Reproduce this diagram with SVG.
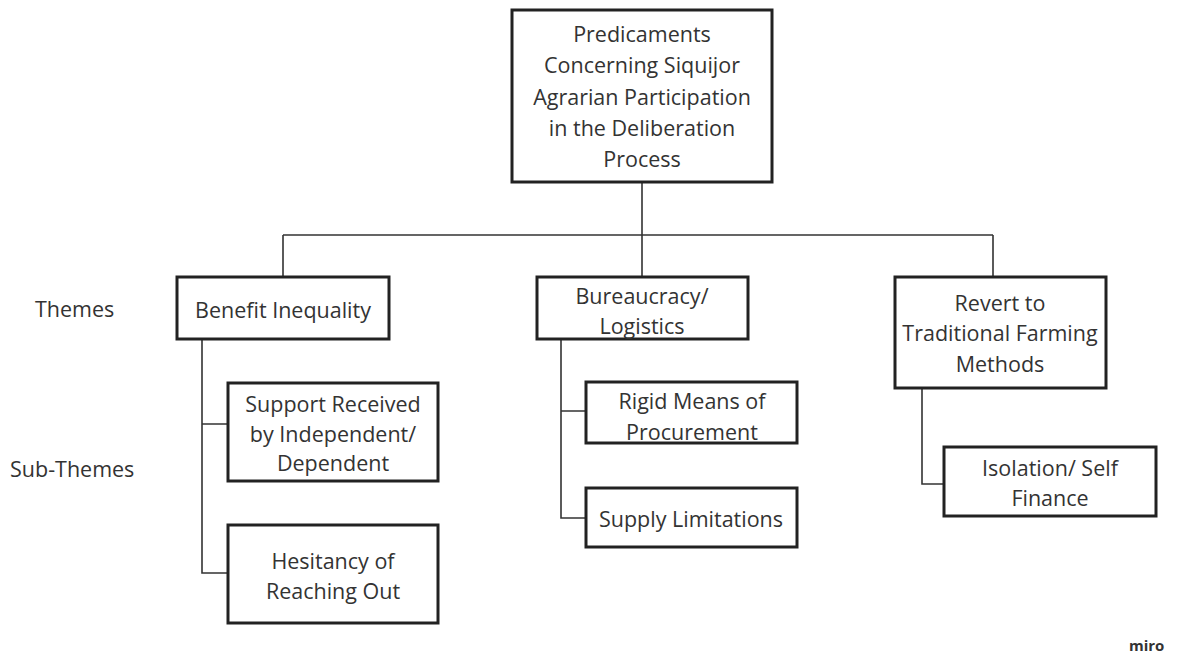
<svg xmlns="http://www.w3.org/2000/svg" width="1182" height="656" viewBox="0 0 1182 656">
<style>
.box{fill:#fff;stroke:#222;stroke-width:3}
.t{font-family:"Open Sans","Liberation Sans",sans-serif;font-size:21.5px;fill:#333;text-anchor:middle;dominant-baseline:central}
.lbl{font-family:"Open Sans","Liberation Sans",sans-serif;font-size:21.5px;fill:#333;dominant-baseline:central}
.c{fill:none;stroke:#333;stroke-width:1.6}
</style>
<rect width="1182" height="656" fill="#fff"/>
<g id="connectors">
<path class="c" d="M642 182V235M283 235H993M283 235V277M642 235V277M993 235V277"/>
<path class="c" d="M202 339V573H228M202 424H228"/>
<path class="c" d="M561 339V518H586M561 411H586"/>
<path class="c" d="M922 388V484H944"/>
</g>
<g id="root">
<rect class="box" x="512" y="10" width="260" height="172"/>
<text class="t" x="642" y="33">Predicaments</text>
<text class="t" x="642" y="64">Concerning Siquijor</text>
<text class="t" x="642" y="96">Agrarian Participation</text>
<text class="t" x="642" y="127">in the Deliberation</text>
<text class="t" x="642" y="158">Process</text>
</g>
<g id="benefit">
<rect class="box" x="177" y="277" width="212" height="62"/>
<text class="t" x="283" y="309">Benefit Inequality</text>
</g>
<g id="bureaucracy">
<rect class="box" x="537" y="277" width="211" height="62"/>
<text class="t" x="642" y="295">Bureaucracy/</text>
<text class="t" x="642" y="325">Logistics</text>
</g>
<g id="revert">
<rect class="box" x="895" y="277" width="211" height="111"/>
<text class="t" x="1000" y="302">Revert to</text>
<text class="t" x="1000" y="332">Traditional Farming</text>
<text class="t" x="1000" y="363">Methods</text>
</g>
<g id="support">
<rect class="box" x="228" y="383" width="210" height="98"/>
<text class="t" x="333" y="403">Support Received</text>
<text class="t" x="333" y="433">by Independent/</text>
<text class="t" x="333" y="462">Dependent</text>
</g>
<g id="hesitancy">
<rect class="box" x="228" y="525" width="210" height="98"/>
<text class="t" x="333" y="560">Hesitancy of</text>
<text class="t" x="333" y="590">Reaching Out</text>
</g>
<g id="rigid">
<rect class="box" x="586" y="382" width="211" height="61"/>
<text class="t" x="692" y="400">Rigid Means of</text>
<text class="t" x="692" y="431">Procurement</text>
</g>
<g id="supply">
<rect class="box" x="586" y="488" width="211" height="59"/>
<text class="t" x="691" y="518">Supply Limitations</text>
</g>
<g id="isolation">
<rect class="box" x="944" y="447" width="212" height="69"/>
<text class="t" x="1050" y="467">Isolation/ Self</text>
<text class="t" x="1050" y="497">Finance</text>
</g>
<g id="labels">
<text class="lbl" x="35" y="308">Themes</text>
<text class="lbl" x="10" y="468">Sub-Themes</text>
<text x="1129" y="651" font-family="'Open Sans','Liberation Sans',sans-serif" font-size="15" font-weight="bold" fill="#333">miro</text>
</g>
</svg>
